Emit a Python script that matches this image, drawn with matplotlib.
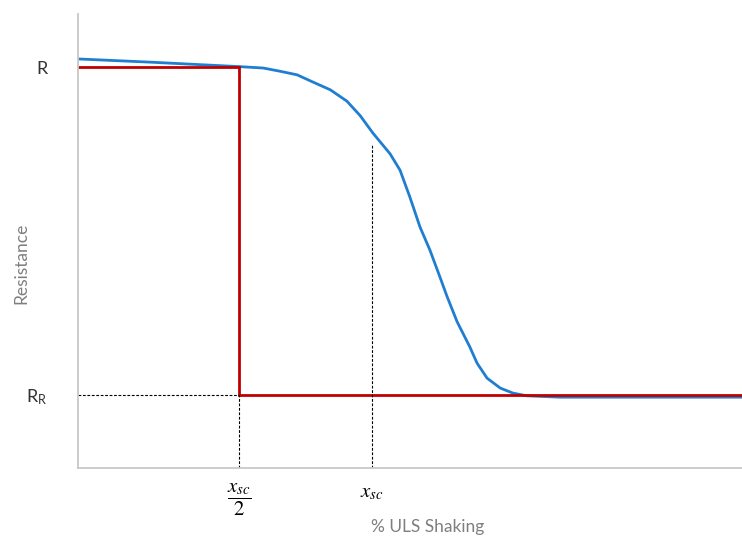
import numpy as np
import matplotlib.pyplot as plt

plt.rcParams['font.family'] = ['Lato', 'DejaVu Sans']
plt.rcParams['mathtext.fontset'] = 'stix'

# resistance levels and shaking thresholds (axis units 0-100)
R = 88.3
R_R = 16.1
x_sc = 44.3
x_sc_half = 24.3

# blue curve: gradual loss of resistance
shake = [0, 10.8, 24.4, 27.9, 30.4, 33.0, 35.4, 38.0, 40.5, 42.5, 44.4, 47.0, 48.5, 50.0,
         51.5, 53.0, 54.5, 55.6, 57.1, 59.0, 60.1, 61.6, 63.6, 65.5, 67.6, 72.6, 100]
resist = [90.1, 89.4, 88.4, 88.1, 87.4, 86.6, 85.0, 83.3, 80.8, 77.6, 73.8, 69.2, 65.6, 59.6,
          53.1, 48.0, 42.1, 37.7, 32.2, 26.7, 23.1, 19.8, 17.6, 16.5, 15.9, 15.6, 15.6]

# red step: sudden loss at x_sc/2
step_x = [0, x_sc_half, x_sc_half, 100]
step_y = [R, R, R_R, R_R]

fig = plt.figure(figsize=(7.42, 5.38), dpi=100)
ax = fig.add_axes([78/742, 70/538, 664/742, 454/538])

ax.plot(shake, resist, color='#1f7ed0', lw=2.0, solid_joinstyle='round')
ax.plot(step_x, step_y, color='#c00000', lw=2.0, solid_joinstyle='miter')

dot = dict(color='black', lw=0.8, ls=(0, (2.5, 1.5)))
ax.plot([0, x_sc_half], [R_R, R_R], **dot)
ax.plot([x_sc_half, x_sc_half], [0, R_R], **dot)
ax.plot([x_sc, x_sc], [0, 71.1], **dot)

ax.set_xlim(0, 100)
ax.set_ylim(0, 100)

ax.set_yticks([R_R, R])
ax.set_yticklabels([r'R$_\mathregular{R}$', 'R'], fontsize=13, color='#333333')
ax.set_xticks([x_sc_half, x_sc])
ax.set_xticklabels([r'$\dfrac{x_{sc}}{2}$', r'$x_{sc}$'], fontsize=15)
ax.tick_params(axis='y', length=0, pad=22)
ax.tick_params(axis='x', length=0, pad=10)

ax.set_ylabel('Resistance', color='#7f7f7f', fontsize=12.5)
ax.yaxis.set_label_coords(-0.073, 0.45)
ax.set_xlabel('% ULS Shaking', color='#7f7f7f', fontsize=12.5)
ax.xaxis.set_label_coords(0.526, -0.112)

ax.spines['right'].set_visible(False)
ax.spines['top'].set_visible(False)
for s in ['left', 'bottom']:
    ax.spines[s].set_color('#c8c8c8')
    ax.spines[s].set_linewidth(1.3)

plt.savefig('out.png', dpi=100)
